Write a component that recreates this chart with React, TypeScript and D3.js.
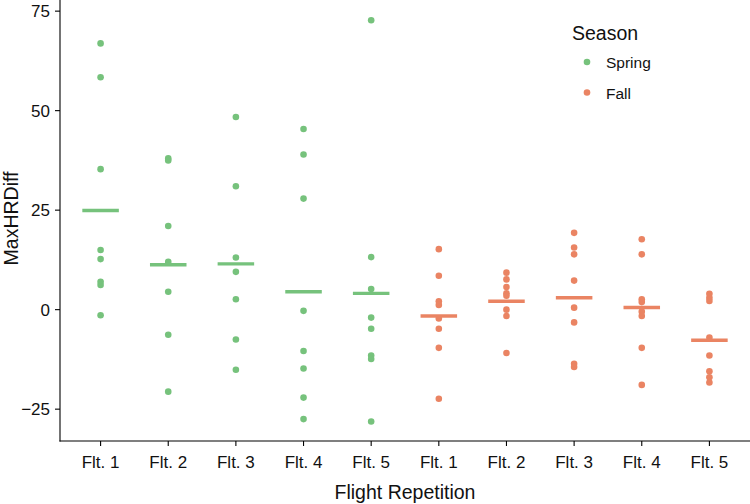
import React from "react";
import * as d3 from "d3";

const categories = ["S1", "S2", "S3", "S4", "S5", "F1", "F2", "F3", "F4", "F5"];
const tickLabels = ["Flt. 1", "Flt. 2", "Flt. 3", "Flt. 4", "Flt. 5", "Flt. 1", "Flt. 2", "Flt. 3", "Flt. 4", "Flt. 5"];
const seasons = ["Spring", "Spring", "Spring", "Spring", "Spring", "Fall", "Fall", "Fall", "Fall", "Fall"];

const springF1 = [66.9, 58.4, 35.3, 15.0, 12.7, 7.0, 6.2, -1.4];
const springF2 = [38.0, 37.5, 21.0, 12.0, 4.5, -6.3, -20.6];
const springF3 = [48.4, 31.0, 13.1, 9.5, 2.6, -7.5, -15.1];
const springF4 = [45.4, 39.0, 27.9, -0.3, -10.4, -14.8, -22.1, -27.5];
const springF5 = [72.7, 13.2, 5.2, -2.0, -4.8, -11.5, -12.4, -28.1];
const fallF1 = [15.2, 8.5, 2.1, 1.2, -2.2, -4.8, -9.6, -22.4];
const fallF2 = [9.3, 7.6, 5.7, 4.1, 3.5, 0.0, -1.6, -10.9];
const fallF3 = [19.3, 15.6, 13.9, 7.3, 0.5, -3.2, -13.6, -14.4];
const fallF4 = [17.7, 13.9, 2.6, 1.9, -0.5, -1.6, -9.6, -18.9];
const fallF5 = [4.0, 3.0, 2.2, -7.0, -11.5, -15.5, -17.0, -18.3];

const means = [24.9, 11.3, 11.5, 4.5, 4.1, -1.6, 2.1, 3.0, 0.55, -7.7];
const yTicks = [-25, 0, 25, 50, 75];

const groups = [springF1, springF2, springF3, springF4, springF5, fallF1, fallF2, fallF3, fallF4, fallF5];
const colors: Record<string, string> = { Spring: "#76c27c", Fall: "#ea8463" };

const W = 750;
const H = 504;
const left = 60;
const right = 750;
const top = 0;
const bottom = 441;
const font = "'Liberation Sans', Arial, sans-serif";

export default function App() {
  const x = d3.scalePoint<string>().domain(categories).range([left, right]).padding(0.6);
  const y = d3.scaleLinear().domain([-33.0, 77.8]).range([bottom, top]);
  const halfW = x.step() * 0.27;

  return (
    <svg width={W} height={H} style={{ position: "absolute", left: 0, top: 0, background: "#fff" }} fontFamily={font}>
      {groups.map((vals, gi) =>
        vals.map((v, i) => (
          <circle key={`${gi}-${i}`} cx={x(categories[gi])} cy={y(v)} r={3.3} fill={colors[seasons[gi]]} />
        ))
      )}
      {means.map((m, gi) => (
        <line
          key={`m${gi}`}
          x1={(x(categories[gi]) as number) - halfW}
          x2={(x(categories[gi]) as number) + halfW}
          y1={y(m)}
          y2={y(m)}
          stroke={colors[seasons[gi]]}
          strokeWidth={3.4}
        />
      ))}
      {/* axes */}
      <line x1={left} x2={left} y1={top} y2={bottom + 0.5} stroke="#000" strokeWidth={1.1} />
      <line x1={left - 0.5} x2={right} y1={bottom} y2={bottom} stroke="#000" strokeWidth={1.1} />
      {yTicks.map((t) => (
        <g key={`yt${t}`}>
          <line x1={left - 5} x2={left} y1={y(t)} y2={y(t)} stroke="#000" strokeWidth={1.1} />
          <text x={left - 10} y={y(t)} dy="0.36em" textAnchor="end" fontSize={17} fill="#111">
            {t < 0 ? `\u2212${Math.abs(t)}` : t}
          </text>
        </g>
      ))}
      {categories.map((c, i) => (
        <g key={`xt${c}`}>
          <line x1={x(c)} x2={x(c)} y1={bottom} y2={bottom + 5} stroke="#000" strokeWidth={1.1} />
          <text x={x(c)} y={467.5} textAnchor="middle" fontSize={17} fill="#111">
            {tickLabels[i]}
          </text>
        </g>
      ))}
      <text x={(left + right) / 2} y={499} textAnchor="middle" fontSize={19.5} fill="#111">
        Flight Repetition
      </text>
      <text transform={`translate(17.5, ${(top + bottom) / 2 - 2}) rotate(-90)`} textAnchor="middle" fontSize={19.5} fill="#111">
        MaxHRDiff
      </text>
      {/* legend */}
      <text x={572} y={40} fontSize={19.5} fill="#111">Season</text>
      {["Spring", "Fall"].map((s, i) => (
        <g key={s}>
          <circle cx={587} cy={62 + i * 30.5} r={3.3} fill={colors[s]} />
          <text x={606} y={68 + i * 30.5} fontSize={15.5} fill="#111">{s}</text>
        </g>
      ))}
    </svg>
  );
}
